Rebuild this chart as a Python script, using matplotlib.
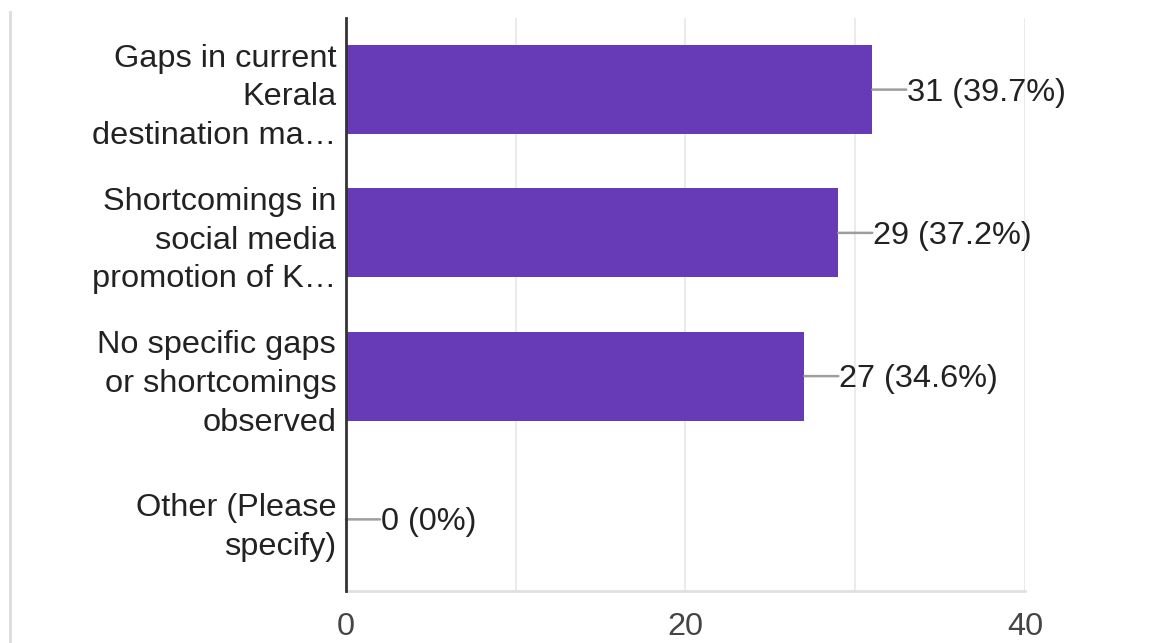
import matplotlib
matplotlib.use("Agg")
from matplotlib import pyplot as plt
from matplotlib.lines import Line2D

# survey answers and counts
categories = [
    "Gaps in current\nKerala\ndestination ma\u2026",
    "Shortcomings in\nsocial media\npromotion of K\u2026",
    "No specific gaps\nor shortcomings\nobserved",
    "Other (Please\nspecify)",
]
counts = [31, 29, 27, 0]
percents = ["39.7%", "37.2%", "34.6%", "0%"]
xticks = [0, 20, 40]

purple = "#673ab7"
fsize = 23.4
plt.rcParams["font.family"] = ["Liberation Sans", "DejaVu Sans"]

fig = plt.figure(figsize=(11.52, 6.43), dpi=100)
ax = fig.add_axes([0.3003, 0.0809, 0.5895, 0.8911])

ypos = list(range(len(categories)))
ax.barh(ypos, counts, height=0.62, color=purple)
ax.set_ylim(len(categories) - 0.5, -0.5)
ax.set_xlim(0, 40)

# value labels with a short leader line
for y, c, p in zip(ypos, counts, percents):
    ax.annotate("", xy=(c, y), xytext=(34, 0), textcoords="offset pixels",
                arrowprops=dict(arrowstyle="-", color="#9e9e9e", lw=1.8,
                                shrinkA=0, shrinkB=0))
    ax.annotate(f"{c} ({p})", xy=(c, y), xytext=(35, -3), textcoords="offset pixels",
                ha="left", va="center", fontsize=fsize, color="#222222")

ax.set_yticks(ypos)
ax.set_yticklabels(categories, fontsize=fsize, color="#222222", linespacing=1.38)
ax.tick_params(axis="y", length=0, pad=7)

ax.set_xticks(xticks)
ax.set_xticks([10, 30], minor=True)
ax.set_xticklabels([str(t) for t in xticks], fontsize=fsize, color="#444444")
ax.tick_params(axis="x", which="both", length=0, pad=15)
ax.grid(axis="x", which="both", color="#ebebeb", lw=1.5)
ax.set_axisbelow(True)

for s in ["top", "right"]:
    ax.spines[s].set_visible(False)
ax.spines["bottom"].set_color("#e0e0e0")
ax.spines["bottom"].set_linewidth(2)
ax.spines["left"].set_color("#333333")
ax.spines["left"].set_linewidth(2)
ax.spines["left"].set_zorder(5)

# thin panel border on the far left
fig.add_artist(Line2D([10 / 1152, 10 / 1152], [0, 1 - 12 / 643],
                      transform=fig.transFigure, color="#dadce0", lw=2))

fig.savefig("out.png", dpi=100)
